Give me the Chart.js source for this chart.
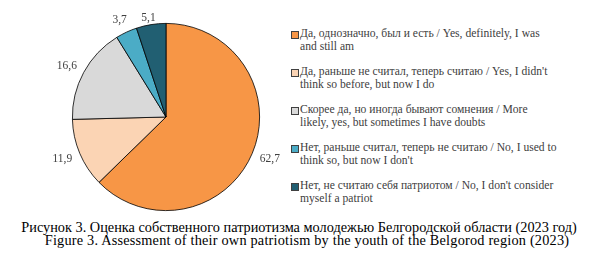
<!DOCTYPE html>
<html>
<head>
<meta charset="utf-8">
<script src="https://cdn.jsdelivr.net/npm/chart.js@4/dist/chart.umd.min.js"></script>
<style>
    html, body { margin: 0; padding: 0; background: #fff; }
    body { width: 598px; height: 257px; position: relative; overflow: hidden; font-family: "Liberation Serif", "Times New Roman", serif; }
    #wrap { position: absolute; left: 0; top: 0; width: 290px; height: 212px; }
    #legend { position: absolute; left: 290px; top: 28px; width: 300px; color: #404040; font-size: 11.6px; line-height: 12.5px; }
    .item { position: relative; padding-left: 10px; height: 38px; white-space: pre-line; }
    .box { position: absolute; left: 1px; top: 3px; width: 6px; height: 6px; border: 1px solid #404040; }
    #caption { position: absolute; left: 0; top: 221px; width: 598px; text-align: center; font-size: 14.3px; line-height: 13px; color: #000; }
    #caption .en { letter-spacing: 0.2px; padding-left: 16px; }
</style>
</head>
<body>
<div id="wrap"><canvas id="chart" width="290" height="212"></canvas></div>
<div id="legend"></div>
<div id="caption">Рисунок 3. Оценка собственного патриотизма молодежью Белгородской области (2023 год)<br><span class="en">Figure 3. Assessment of their own patriotism by the youth of the Belgorod region (2023)</span></div>
<script>
    const categories = [
        'Да, однозначно, был и есть / Yes, definitely, I was\nand still am',
        'Да, раньше не считал, теперь считаю / Yes, I didn\'t\nthink so before, but now I do',
        'Скорее да, но иногда бывают сомнения / More\nlikely, yes, but sometimes I have doubts',
        'Нет, раньше считал, теперь не считаю / No, I used to\nthink so, but now I don\'t',
        'Нет, не считаю себя патриотом / No, I don\'t consider\nmyself a patriot'
    ];
    const values = [62.7, 11.9, 16.6, 3.7, 5.1];
    const colors = ['#f79646', '#fbd4b4', '#d9d9d9', '#4bacc6', '#215f72'];

    // value labels just outside each slice
    const outsideLabels = {
        id: 'outsideLabels',
        afterDatasetsDraw(chart) {
            const ctx = chart.ctx;
            const meta = chart.getDatasetMeta(0);
            ctx.save();
            ctx.font = '11.5px "Liberation Serif", serif';
            ctx.fillStyle = '#404040';
            ctx.textAlign = 'center';
            ctx.textBaseline = 'middle';
            meta.data.forEach((arc, i) => {
                const p = arc.getProps(['x', 'y', 'startAngle', 'endAngle', 'outerRadius']);
                const mid = (p.startAngle + p.endAngle) / 2;
                const txt = values[i].toFixed(1).replace('.', ',');
                const w = ctx.measureText(txt).width;
                const c = Math.cos(mid), s = Math.sin(mid);
                const d = p.outerRadius + 9;
                const x = p.x + c * d + c * w / 2;
                let y = p.y + s * d + s * 4.5;
                y = Math.max(y, 18); // keep inside the plot area
                ctx.fillText(txt, x, y);
            });
            ctx.restore();
        }
    };

    const chart = new Chart(document.getElementById('chart'), {
        type: 'pie',
        data: {
            labels: categories,
            datasets: [{
                data: values,
                backgroundColor: colors,
                borderColor: '#000',
                borderWidth: 0.8,
                hoverOffset: 0
            }]
        },
        options: {
            responsive: false,
            animation: false,
            layout: { padding: { left: 72, right: 30, top: 23, bottom: 1 } },
            plugins: {
                legend: { display: false },
                tooltip: { enabled: false }
            }
        },
        plugins: [outsideLabels]
    });

    document.getElementById('legend').innerHTML = categories.map((c, i) =>
        `<div class="item"><span class="box" style="background:${colors[i]}"></span>${c}</div>`).join('');
</script>
</body>
</html>
